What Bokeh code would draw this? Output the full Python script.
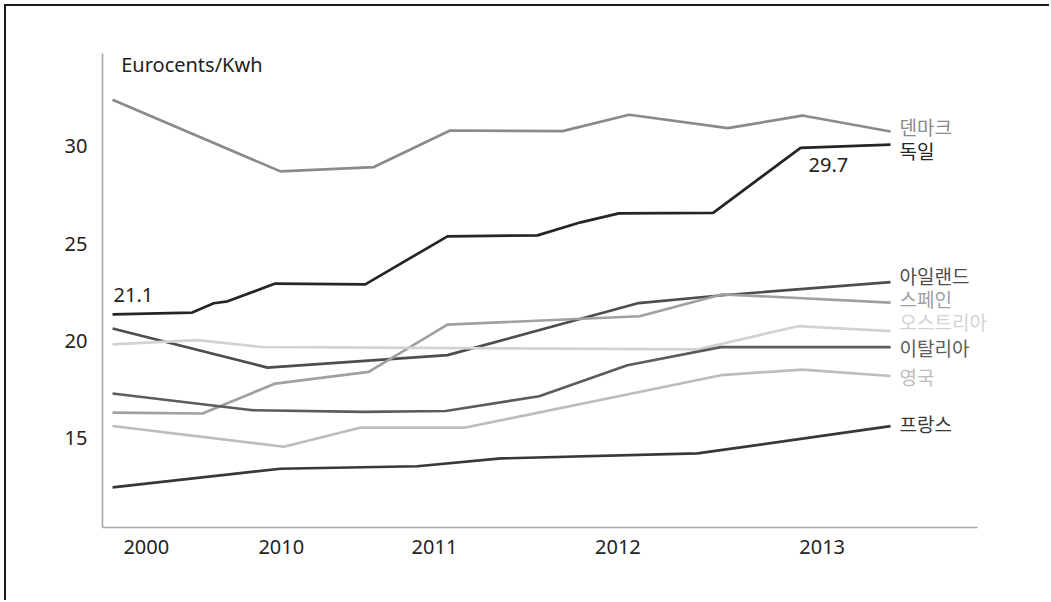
from bokeh.plotting import figure
from bokeh.models import Range1d, FixedTicker, Label, LabelSet, ColumnDataSource
from bokeh.core.properties import value
from bokeh.embed import file_html
from bokeh.resources import INLINE

# ---------------- data ----------------
x_tick_pos = [0.39, 1.95, 3.72, 5.84, 8.20]
x_tick_labels = ["2000", "2010", "2011", "2012", "2013"]
y_ticks = [15, 20, 25, 30]

denmark_x = [0, 1.94, 3.02, 3.90, 5.20, 5.97, 7.11, 7.97, 8.99]
denmark_y = [32.40, 28.72, 28.94, 30.82, 30.79, 31.63, 30.94, 31.59, 30.77]

germany_x = [0, 0.92, 1.17, 1.33, 1.88, 2.92, 3.87, 4.91, 5.41, 5.85, 6.94, 7.95, 8.99]
germany_y = [21.37, 21.46, 21.94, 22.04, 22.95, 22.91, 25.38, 25.43, 26.10, 26.56, 26.59, 29.93, 30.09]

ireland_x = [0, 1.79, 3.87, 6.08, 7.05, 8.99]
ireland_y = [20.64, 18.63, 19.27, 21.95, 22.35, 23.03]

spain_x = [0, 1.04, 1.88, 2.96, 3.87, 6.09, 7.05, 8.99]
spain_y = [16.32, 16.27, 17.81, 18.41, 20.84, 21.27, 22.40, 21.97]

austria_x = [0, 0.98, 1.73, 6.76, 7.92, 8.99]
austria_y = [19.83, 20.04, 19.69, 19.57, 20.76, 20.51]

italy_x = [0, 1.62, 2.90, 3.85, 4.93, 5.95, 7.03, 8.99]
italy_y = [17.30, 16.44, 16.35, 16.40, 17.16, 18.75, 19.68, 19.68]

uk_x = [0, 1.98, 2.87, 4.08, 7.03, 7.97, 8.99]
uk_y = [15.63, 14.56, 15.55, 15.55, 18.24, 18.53, 18.20]

france_x = [0, 1.94, 3.52, 4.49, 6.76, 8.99]
france_y = [12.47, 13.43, 13.56, 13.96, 14.22, 15.62]

names = ["덴마크", "독일", "아일랜드", "스페인", "오스트리아", "이탈리아", "영국", "프랑스"]
series_x = [denmark_x, germany_x, ireland_x, spain_x, austria_x, italy_x, uk_x, france_x]
series_y = [denmark_y, germany_y, ireland_y, spain_y, austria_y, italy_y, uk_y, france_y]

start_value_label = "21.1"
end_value_label = "29.7"
unit_label = "Eurocents/Kwh"

# ---------------- styles ----------------
colors = ["#8a8a8a", "#252525", "#4d4d4d", "#a0a0a0", "#d2d2d2", "#5c5c5c", "#bdbdbd", "#383838"]
label_nudge_px = [5, -6, 7, 4, 10, 0, -1, 3]
LATIN = "Noto Sans"
KOREAN = "Noto Sans CJK KR"
TXT = "#222222"
X_AXIS_END = 10.0

p = figure(width=1045, height=596, output_backend="svg", toolbar_location=None,
           x_range=Range1d(-0.116, 10.85), y_range=Range1d(10.41, 34.78),
           min_border_left=96, min_border_right=0, min_border_top=47, min_border_bottom=75)
p.margin = (4, 0, 0, 4)
p.styles = {"border-top": "2px solid #1a1a1a", "border-left": "2px solid #1a1a1a"}
p.outline_line_color = None
p.background_fill_color = "white"
p.border_fill_color = "white"
p.grid.visible = False

for xs, ys, c in zip(series_x, series_y, colors):
    p.line(xs, ys, line_color=c, line_width=2.7, line_join="round")

# axes
p.xaxis.ticker = FixedTicker(ticks=x_tick_pos)
p.xaxis.major_label_overrides = {t: l for t, l in zip(x_tick_pos, x_tick_labels)}
p.xaxis.bounds = (-0.116, X_AXIS_END)
p.yaxis.ticker = FixedTicker(ticks=y_ticks)
for ax in (p.xaxis[0], p.yaxis[0]):
    ax.axis_line_color = "#a8a8a8"
    ax.axis_line_width = 1.6
    ax.major_tick_line_color = None
    ax.minor_tick_line_color = None
    ax.major_tick_out = 0
    ax.major_tick_in = 0
    ax.minor_tick_out = 0
    ax.major_label_text_font = LATIN
    ax.major_label_text_font_size = "20px"
    ax.major_label_text_color = TXT
p.xaxis.major_label_standoff = 12
p.yaxis.major_label_standoff = 15

# end-of-line labels
end_x = [xs[-1] for xs in series_x]
end_y = [ys[-1] for ys in series_y]
src = ColumnDataSource(dict(x=end_x, y=end_y, name=names, color=colors, dy=label_nudge_px))
p.add_layout(LabelSet(x="x", y="y", text="name", source=src, text_color="color",
                      x_offset=9, y_offset="dy", text_baseline="middle",
                      text_font=value(KOREAN), text_font_size="19px"))

# value annotations
p.add_layout(Label(x=germany_x[0], y=germany_y[0], text=start_value_label, x_offset=1, y_offset=19,
                   text_baseline="middle", text_font=LATIN, text_font_size="20px", text_color=TXT))
p.add_layout(Label(x=germany_x[-2], y=germany_y[-2], text=end_value_label, x_offset=8, y_offset=-17,
                   text_baseline="middle", text_font=LATIN, text_font_size="20px", text_color=TXT))
p.add_layout(Label(x=0.10, y=y_ticks[-1], text=unit_label, y_offset=82,
                   text_baseline="middle", text_font=LATIN, text_font_size="20px", text_color=TXT))

open("out.html", "w").write(file_html(p, INLINE))
